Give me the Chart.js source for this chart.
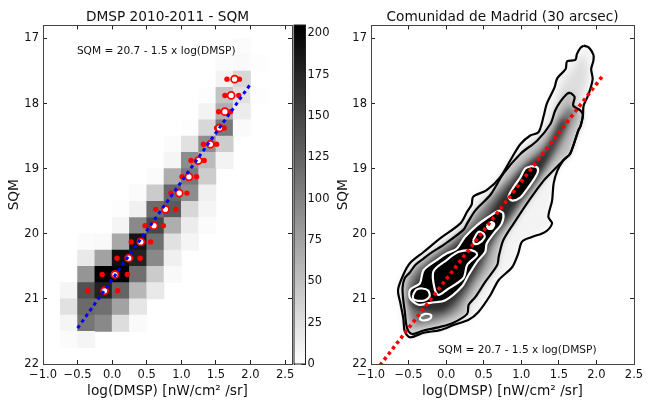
<!DOCTYPE html>
<html><head><meta charset="utf-8">
<style>
html,body{margin:0;padding:0;background:#fff;width:654px;height:409px;overflow:hidden}
canvas{position:absolute;display:block}
#density{left:371px;top:25px;filter:blur(3px)}
#left,#right,#cbar{left:0;top:0;filter:blur(0.4px)}
</style>
<script src="https://cdn.jsdelivr.net/npm/chart.js@4"></script>
</head><body>
<canvas id="density" width="263" height="339"></canvas>
<canvas id="left" width="654" height="409"></canvas>
<canvas id="cbar" width="654" height="409"></canvas>
<canvas id="right" width="654" height="409"></canvas>
<script>
const titleLeft = 'DMSP 2010-2011 - SQM';
const titleRight = 'Comunidad de Madrid (30 arcsec)';
const xLabel = 'log(DMSP) [nW/cm\u00B2 /sr]';
const yLabel = 'SQM';
const fitLabel = 'SQM = 20.7 - 1.5 x log(DMSP)';

// 2-D histogram: each row = [SQM bin start, first log(DMSP) bin start, counts...]
const histRows = [
 [17.00, 1.75, 3],
 [17.25, 1.50, 3, 5, 2],
 [17.50, 1.50, 10, 32],
 [17.75, 1.25, 2, 48, 24, 2],
 [18.00, 1.25, 10, 65, 15],
 [18.25, 1.00, 2, 32, 108, 4],
 [18.50, 0.75, 3, 24, 92, 40],
 [18.75, 0.75, 8, 92, 55, 10],
 [19.00, 0.50, 3, 65, 108, 40],
 [19.25, 0.25, 3, 42, 122, 92, 12],
 [19.50, 0.00, 2, 12, 118, 132, 32, 8],
 [19.75, 0.00, 8, 95, 148, 65, 15, 3],
 [20.00, -0.50, 3, 5, 70, 188, 115, 24, 8],
 [20.25, -0.50, 18, 75, 192, 178, 95, 12],
 [20.50, -0.50, 85, 205, 205, 115, 42, 5],
 [20.75, -0.75, 8, 140, 178, 125, 58, 18],
 [21.00, -0.75, 24, 120, 115, 75, 20],
 [21.25, -0.75, 8, 110, 95, 27, 4],
 [21.50, -0.75, 3, 8]
];
const binSize = 0.25;
const colorbarMax = 205;
const colorbarTicks = [0,25,50,75,100,125,150,175,200];

const medY  = [17.625,17.875,18.125,18.375,18.625,18.875,19.125,19.375,19.625,19.875,20.125,20.375,20.625,20.875];
const medX  = [1.77,1.72,1.63,1.55,1.42,1.245,1.11,0.97,0.77,0.605,0.415,0.24,0.04,-0.11];
const lowX  = [1.66,1.63,1.54,1.51,1.32,1.14,1.01,0.85,0.63,0.475,0.275,0.07,-0.145,-0.355];
const highX = [1.84,1.83,1.71,1.62,1.51,1.33,1.22,1.08,0.92,0.74,0.555,0.405,0.22,0.08];

const fitLeftX = [-0.5, 2.0];
const fitLeftY = [21.45, 17.7];
const fitRightX = [-0.88, 2.10];
const fitRightY = [22.02, 17.55];

const outerContour = [[1.83,17.11],[1.90,17.14],[1.96,17.25],[1.96,17.34],[1.93,17.47],[1.95,17.62],[1.92,17.77],[1.88,17.90],[1.83,18.03],[1.82,18.18],[1.79,18.34],[1.76,18.41],[1.65,18.77],[1.56,18.87],[1.48,19.03],[1.43,19.23],[1.41,19.49],[1.36,19.74],[1.41,19.84],[1.32,19.97],[1.14,20.05],[1.01,20.12],[0.96,20.30],[0.88,20.51],[0.70,20.71],[0.59,20.94],[0.43,21.20],[0.30,21.32],[0.10,21.40],[-0.08,21.48],[-0.30,21.52],[-0.48,21.59],[-0.55,21.50],[-0.57,21.30],[-0.61,21.06],[-0.64,20.86],[-0.57,20.63],[-0.48,20.45],[-0.30,20.28],[-0.08,20.07],[0.19,19.84],[0.28,19.66],[0.34,19.55],[0.36,19.43],[0.54,19.33],[0.72,19.13],[0.88,18.82],[0.99,18.62],[1.12,18.49],[1.23,18.44],[1.30,18.18],[1.34,18.00],[1.44,17.76],[1.48,17.61],[1.59,17.47],[1.61,17.35],[1.72,17.33],[1.74,17.24],[1.79,17.14]];
const innerContour = [[1.65,17.83],[1.71,17.90],[1.69,18.03],[1.79,18.11],[1.82,18.18],[1.79,18.34],[1.76,18.41],[1.65,18.77],[1.56,18.87],[1.39,19.07],[1.30,19.18],[1.12,19.46],[0.90,19.84],[0.76,20.10],[0.70,20.35],[0.68,20.48],[0.52,20.74],[0.39,20.97],[0.30,21.09],[0.28,21.23],[0.09,21.37],[-0.08,21.43],[-0.31,21.49],[-0.45,21.54],[-0.50,21.50],[-0.53,21.40],[-0.55,21.20],[-0.57,21.02],[-0.58,20.83],[-0.55,20.68],[-0.48,20.59],[-0.41,20.48],[-0.30,20.38],[-0.21,20.30],[-0.01,20.15],[0.23,19.94],[0.28,19.84],[0.39,19.64],[0.59,19.40],[0.76,19.08],[0.99,18.77],[1.21,18.57],[1.39,18.31],[1.45,18.11],[1.52,17.97],[1.61,17.85]];
const whiteTop = [[1.14,18.96],[1.05,19.00],[0.99,19.13],[0.90,19.28],[0.83,19.43],[0.88,19.49],[0.99,19.44],[1.08,19.31],[1.16,19.18],[1.22,19.05],[1.21,18.98]];
const whiteMain = [[0.70,19.64],[0.76,19.69],[0.74,19.84],[0.63,20.00],[0.54,20.15],[0.52,20.28],[0.41,20.43],[0.30,20.63],[0.21,20.81],[-0.01,21.02],[-0.21,21.06],[-0.37,21.09],[-0.48,20.99],[-0.48,20.86],[-0.35,20.76],[-0.30,20.56],[-0.12,20.40],[0.01,20.30],[0.14,20.23],[0.25,20.05],[0.41,19.87],[0.59,19.72]];
const whiteCore = [[0.40,20.28],[0.41,20.33],[0.28,20.48],[0.23,20.68],[0.01,20.86],[-0.10,20.94],[-0.15,20.86],[-0.17,20.58],[0.01,20.40],[0.16,20.28],[0.32,20.25]];
const whiteSpotA = [[-0.44,20.94],[-0.40,20.86],[-0.32,20.84],[-0.24,20.87],[-0.22,20.96],[-0.28,21.02],[-0.37,21.03],[-0.44,21.00]];
const whiteSpotB = [[-0.35,21.27],[-0.28,21.23],[-0.20,21.25],[-0.21,21.30],[-0.28,21.33],[-0.34,21.32]];
const whiteSpotC = [[0.36,20.10],[0.43,19.97],[0.50,20.00],[0.51,20.06],[0.43,20.15],[0.37,20.15]];
const whiteSpotD = [[0.54,19.87],[0.60,19.82],[0.64,19.85],[0.61,19.92],[0.56,19.92]];

// shading bands of the density map
const bandTop = [[1.82,17.25],[1.88,17.5],[1.82,17.85],[1.72,18.1],[1.5,18.0],[1.55,17.7],[1.68,17.5]];
const bandMid = [[1.62,18.05],[1.45,18.35],[1.33,18.6],[1.12,18.85],[0.85,19.15],[0.65,19.38],[0.45,19.65],[0.28,19.88],[0.0,20.18],[-0.25,20.4],[-0.45,20.6],[-0.52,20.85],[-0.50,21.1],[-0.42,21.38],[-0.1,21.32],[0.12,21.2],[0.25,21.0],[0.38,20.75],[0.52,20.5],[0.6,20.25],[0.72,19.98],[0.88,19.75],[1.02,19.5],[1.2,19.2],[1.35,18.95],[1.5,18.7],[1.62,18.4],[1.72,18.1]];
const bandDark = [[1.55,18.2],[1.3,18.75],[1.05,18.95],[0.85,19.25],[0.68,19.5],[0.5,19.8],[0.3,20.0],[0.1,20.2],[-0.2,20.45],[-0.4,20.75],[-0.5,21.05],[-0.35,21.18],[-0.05,21.2],[0.15,21.0],[0.3,20.75],[0.45,20.45],[0.6,20.1],[0.8,19.8],[0.95,19.55],[1.1,19.35],[1.3,19.0],[1.45,18.65],[1.6,18.3]];

const FONT = 'DejaVu Sans';
Chart.defaults.font.family = FONT;
Chart.defaults.color = '#111';
Chart.defaults.animation = false;
Chart.defaults.responsive = false;
Chart.defaults.plugins.legend.display = false;
Chart.defaults.plugins.tooltip.enabled = false;

const TICKFONT = {family:FONT,size:11.5};
const LABFONT = {family:FONT,size:13.7,weight:'normal'};
const closed = a => a.concat([a[0]]).map(p => ({x:p[0],y:p[1]}));
const grayOf = v => { const g = Math.round(255*(1-Math.min(v,colorbarMax)/colorbarMax)); return `rgb(${g},${g},${g})`; };

function frame(pos, box, extra){
  return Object.assign({
    position:pos,
    offset:false,
    grid:{display:true,offset:false,drawOnChartArea:false,drawTicks:true,tickLength:-4,tickColor:'#222',tickWidth:1},
    border:{display:true,color:'#444',width:1},
    afterFit(s){ if(pos==='top'||pos==='bottom') s.height=box; else s.width=box; }
  }, extra);
}
function numScale(min,max,step,rev,fmt){
  return {type:'linear',min,max,reverse:!!rev,
    ticks:{stepSize:step,includeBounds:false,autoSkip:false,maxRotation:0,minRotation:0,font:TICKFONT,padding:8,
      callback:fmt}};
}
const fmtX = v => (v<0?'\u2212':'')+Math.abs(v).toFixed(1);
const fmtY = v => String(v);

function axes(xMin,xMax,yWidth,yTitlePad){
  const noLab = o => { o.ticks.display=false; return o; };
  return {
    x: frame('bottom',45,Object.assign(numScale(xMin,xMax,0.5,false,fmtX),
       {title:{display:true,text:xLabel,font:LABFONT,padding:{top:0,bottom:9}}})),
    xTop: frame('top',0,noLab(numScale(xMin,xMax,0.5,false,fmtX))),
    y: frame('left',yWidth,Object.assign(numScale(16.8,22,1,true,fmtY),
       {title:{display:true,text:yLabel,font:LABFONT,padding:yTitlePad}})),
    yRight: frame('right',0,noLab(numScale(16.8,22,1,true,fmtY)))
  };
}
const annotPlugin = (px,py) => ({id:'annot',afterDatasetsDraw(c){
  const ctx=c.ctx; ctx.save(); ctx.font='10.6px '+FONT; ctx.fillStyle='#111'; ctx.textBaseline='middle'; ctx.textAlign='left';
  ctx.fillText(fitLabel,c.scales.x.getPixelForValue(px),c.scales.y.getPixelForValue(py)); ctx.restore();
}});
const titleOpt = t => ({display:true,text:t,fullSize:false,font:LABFONT,color:'#111',padding:{top:9,bottom:0}});

// ---- heat map cells
const cells=[];
histRows.forEach(r=>{ for(let i=2;i<r.length;i++){ const x0=r[1]+(i-2)*binSize;
  cells.push({x:x0+binSize/2,y:[r[0],r[0]+binSize],v:r[i]}); }});

new Chart(document.getElementById('left'),{
  type:'scatter',
  data:{datasets:[
    {type:'scatter',showLine:true,order:0,data:fitLeftX.map((x,i)=>({x,y:fitLeftY[i]})),borderColor:'#0000ff',borderWidth:3,borderDash:[3.5,3.5],pointRadius:0,fill:false},
    {type:'scatter',order:1,data:medX.map((x,i)=>({x,y:medY[i]})),pointRadius:3.5,pointBackgroundColor:'#fff',pointBorderColor:'#ff0000',pointBorderWidth:1.8},
    {type:'scatter',order:2,data:lowX.map((x,i)=>({x,y:medY[i]})),pointRadius:2.7,pointBackgroundColor:'#ff0000',pointBorderColor:'#ff0000',pointBorderWidth:0},
    {type:'scatter',order:2,data:highX.map((x,i)=>({x,y:medY[i]})),pointRadius:2.7,pointBackgroundColor:'#ff0000',pointBorderColor:'#ff0000',pointBorderWidth:0},
    {type:'bar',order:3,data:cells,barPercentage:1,categoryPercentage:1,borderWidth:0,
      backgroundColor:c=>c.raw?grayOf(c.raw.v):'#fff'}
  ]},
  options:{
    layout:{padding:{left:0,right:362,top:0,bottom:0}},
    scales:axes(-1,2.6,43,{top:6,bottom:2}),
    plugins:{title:titleOpt(titleLeft)}
  },
  plugins:[annotPlugin(-0.51,17.19)]
});

// ---- colour bar
new Chart(document.getElementById('cbar'),{
  type:'bar',
  data:{labels:['counts'],datasets:[{data:[[0,colorbarMax]],barPercentage:1,categoryPercentage:1,borderWidth:0,
    backgroundColor:c=>{const a=c.chart.chartArea; if(!a) return '#888';
      const g=c.chart.ctx.createLinearGradient(0,a.bottom,0,a.top); g.addColorStop(0,'#fff'); g.addColorStop(1,'#000'); return g;}}]},
  options:{
    layout:{padding:{left:294,right:654-305.5-40,top:25,bottom:45}},
    scales:{
      x:{display:false},
      y:{type:'linear',position:'right',min:0,max:colorbarMax,afterFit(s){s.width=40;},
         afterBuildTicks(s){s.ticks=colorbarTicks.map(value=>({value}));},
         grid:{display:true,drawOnChartArea:false,drawTicks:true,tickLength:-4,tickColor:'#222'},
         border:{display:true,color:'#222'},
         ticks:{font:TICKFONT,padding:6,autoSkip:false}},
      yL:{type:'linear',position:'left',min:0,max:colorbarMax,afterFit(s){s.width=0;},
         grid:{display:false},border:{display:true,color:'#222'},ticks:{display:false}}
    }
  },
  plugins:[{id:'capbar',afterDraw(c){const a=c.chartArea,ctx=c.ctx;ctx.save();ctx.strokeStyle='#222';ctx.lineWidth=1;
    ctx.strokeRect(a.left,a.top,a.right-a.left,a.bottom-a.top);ctx.restore();}}]
});

// ---- density shading (blurred layer under the contours)
const shade=(pts,col,order)=>({type:'scatter',showLine:true,data:closed(pts),fill:'shape',backgroundColor:col,borderWidth:0,pointRadius:0,tension:0.3,order});
new Chart(document.getElementById('density'),{
  type:'scatter',
  data:{datasets:[
    shade(bandDark,'#2c2c2c',1),
    shade(bandMid,'#777777',2),
    shade(innerContour,'#bcbcbc',3),
    shade(bandTop,'#dedede',4),
    shade(outerContour,'#f3f3f3',5)
  ]},
  options:{
    layout:{padding:0},
    scales:{x:{type:'linear',display:false,min:-1,max:2.5},y:{type:'linear',display:false,min:16.8,max:22,reverse:true}}
  }
});

// ---- contours
const contour=(pts,col,order,fillCol)=>({type:'scatter',showLine:true,data:closed(pts),borderColor:col,borderWidth:2.2,pointRadius:0,tension:0.3,order,
  fill:fillCol?'shape':false,backgroundColor:fillCol||'transparent'});
new Chart(document.getElementById('right'),{
  type:'scatter',
  data:{datasets:[
    {type:'scatter',showLine:true,order:0,data:fitRightX.map((x,i)=>({x,y:fitRightY[i]})),borderColor:'#ff0000',borderWidth:3.6,borderDash:[3.4,3.4],pointRadius:0,fill:false},
    contour(whiteSpotD,'#fff',1,'#fff'),
    contour(whiteSpotC,'#fff',1),
    contour(whiteCore,'#fff',1),
    contour(whiteSpotA,'#fff',1),
    contour(whiteSpotB,'#fff',1),
    contour(whiteMain,'#fff',2,'#000'),
    contour(whiteTop,'#fff',2,'#000'),
    contour(innerContour,'#000',3),
    contour(outerContour,'#000',3)
  ]},
  options:{
    layout:{padding:{left:330,right:20,top:0,bottom:0}},
    scales:axes(-1,2.5,41,{top:5,bottom:2}),
    plugins:{title:titleOpt(titleRight)}
  },
  plugins:[annotPlugin(-0.11,21.79)]
});
</script>
</body></html>
